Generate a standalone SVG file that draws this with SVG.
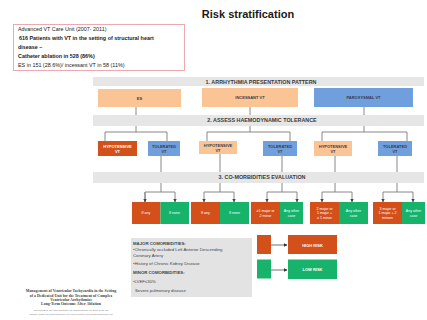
<svg xmlns="http://www.w3.org/2000/svg" width="427" height="320" viewBox="0 0 427 320">
  <style>
    text { font-family: "Liberation Sans", Arial, sans-serif; }
    .band { fill: #e6e6e6; }
    .bandtxt { font-size: 5.4px; font-weight: bold; fill: #3a3a3a; text-anchor: middle; }
    .peach { fill: #fbc495; }
    .blue { fill: #6f9fdc; }
    .red { fill: #d4501a; }
    .green { fill: #17b36a; }
    .lbl { font-size: 4px; font-weight: bold; text-anchor: middle; }
    .dark { fill: #3a3a4a; }
    .light { fill: #ffffff; }
    .small { font-size: 3.6px; fill: #ffffff; text-anchor: middle; }
    .conn { stroke: #7a7a7a; stroke-width: 0.9; fill: none; }
    .legarrow { stroke: #333; stroke-width: 0.7; fill: none; }
    .info { font-size: 5.4px; fill: #222; }
    .cmb { font-size: 4.3px; fill: #444; }
    .cite { font-family: "Liberation Serif", "Times New Roman", serif; font-weight: bold; font-size: 3.9px; fill: #444; text-anchor: middle; }
    .auth { font-size: 1.9px; fill: #777; text-anchor: middle; }
  </style>
  <defs>
    <marker id="ah" viewBox="0 0 10 10" refX="9" refY="5" markerWidth="4" markerHeight="4" orient="auto">
      <path d="M0,0 L10,5 L0,10 z" fill="#444"/>
    </marker>
    <marker id="ah2" viewBox="0 0 10 10" refX="9" refY="5" markerWidth="5" markerHeight="5" orient="auto">
      <path d="M0,0 L10,5 L0,10 z" fill="#333"/>
    </marker>
  </defs>

  <rect width="427" height="320" fill="#ffffff"/>

  <!-- heading -->
  <text x="248" y="18" font-size="11" font-weight="bold" fill="#1a1a1a" text-anchor="middle">Risk stratification</text>

  <!-- study summary -->
  <g id="summary">
    <rect x="13.5" y="24.5" width="171" height="46" fill="#ffffff" stroke="#e9a0ab" stroke-width="0.9"/>
    <text class="info" x="18" y="31">Advanced  VT Care Unit (2007- 2011)</text>
    <text class="info" x="19" y="40" font-weight="bold"> 616 Patients with VT in the setting of structural heart</text>
    <text class="info" x="18" y="49" font-weight="bold">disease –</text>
    <text class="info" x="18" y="58" font-weight="bold">Catheter ablation in 528 (86%)</text>
    <text class="info" x="18" y="67">ES in 151 (28.6%)/ incessant VT in 58 (11%)</text>
  </g>

  <!-- connectors -->
  <g id="connectors">
    <!-- presentation pattern to haemodynamic tolerance -->
    <path class="conn" d="M136,107 V132 M105,141 V132 H167 V141"/>
    <path class="conn" d="M250,107 V132 M207,141 V132 H290 V141"/>
    <path class="conn" d="M364,107 V132 M322,141 V132 H407 V141"/>
    <!-- tolerance to co-morbidity outcome -->
    <path class="conn" d="M161,156 V192 H145 V202 M161,192 H175"/>
    <path class="conn" d="M175,192 V202" marker-end="url(#ah)"/>
    <path class="conn" d="M145,192 V202" marker-end="url(#ah)"/>
    <path class="conn" d="M220,154 V192 H204 M220,192 H234"/>
    <path class="conn" d="M204,192 V202" marker-end="url(#ah)"/>
    <path class="conn" d="M234,192 V202" marker-end="url(#ah)"/>
    <path class="conn" d="M282,156 V192 H267 M282,192 H297"/>
    <path class="conn" d="M267,192 V202" marker-end="url(#ah)"/>
    <path class="conn" d="M297,192 V202" marker-end="url(#ah)"/>
    <path class="conn" d="M335,156 V192 H322 M335,192 H352"/>
    <path class="conn" d="M322,192 V202" marker-end="url(#ah)"/>
    <path class="conn" d="M352,192 V202" marker-end="url(#ah)"/>
    <path class="conn" d="M397,156 V192 H383 M397,192 H413"/>
    <path class="conn" d="M383,192 V202" marker-end="url(#ah)"/>
    <path class="conn" d="M413,192 V202" marker-end="url(#ah)"/>
    <!-- legend -->
    <path class="legarrow" d="M271,245 H287" marker-end="url(#ah2)"/>
    <path class="legarrow" d="M271,270 H287" marker-end="url(#ah2)"/>
  </g>

  <!-- step bands -->
  <g id="step1">
    <rect class="band" x="93" y="77" width="331" height="9"/>
    <text class="bandtxt" x="261" y="83.6">1. ARRHYTHMIA PRESENTATION PATTERN</text>
  </g>
  <g id="step2">
    <rect class="band" x="93" y="115" width="331" height="11"/>
    <text class="bandtxt" x="262" y="122.4">2. ASSESS HAEMODYNAMIC TOLERANCE</text>
  </g>
  <g id="step3">
    <rect class="band" x="93" y="172" width="331" height="11"/>
    <text class="bandtxt" x="262" y="179.4">3. CO-MORBIDITIES EVALUATION</text>
  </g>

  <!-- presentation pattern -->
  <g id="es">
    <rect class="peach" x="98" y="89" width="83" height="18"/>
    <text class="lbl dark" x="139.5" y="99.5">ES</text>
  </g>
  <g id="incessant">
    <rect class="peach" x="202" y="88" width="96" height="19"/>
    <text class="lbl dark" x="250" y="99">INCESSANT  VT</text>
  </g>
  <g id="paroxysmal">
    <rect class="blue" x="314" y="88" width="99" height="19"/>
    <text class="lbl dark" x="363.5" y="99">PAROXYSMAL  VT</text>
  </g>

  <!-- haemodynamic tolerance -->
  <g id="es-hypo">
    <rect class="red" x="98" y="141" width="39" height="15"/>
    <text class="lbl light" x="117.5" y="147.5">HYPOTENSIVE</text>
    <text class="lbl light" x="117.5" y="152.5">VT</text>
  </g>
  <g id="es-tol">
    <rect class="blue" x="148" y="141" width="32" height="15"/>
    <text class="lbl dark" x="164" y="147.5">TOLERATED</text>
    <text class="lbl dark" x="164" y="152.5">VT</text>
  </g>
  <g id="inc-hypo">
    <rect class="peach" x="199" y="141" width="38" height="13"/>
    <text class="lbl dark" x="218" y="146.5">HYPOTENSIVE</text>
    <text class="lbl dark" x="218" y="151.5">VT</text>
  </g>
  <g id="inc-tol">
    <rect class="blue" x="263" y="141" width="34" height="15"/>
    <text class="lbl dark" x="280" y="147.5">TOLERATED</text>
    <text class="lbl dark" x="280" y="152.5">VT</text>
  </g>
  <g id="par-hypo">
    <rect class="peach" x="314" y="141" width="38" height="15"/>
    <text class="lbl dark" x="333" y="147.5">HYPOTENSIVE</text>
    <text class="lbl dark" x="333" y="152.5">VT</text>
  </g>
  <g id="par-tol">
    <rect class="blue" x="378" y="141" width="34" height="15"/>
    <text class="lbl dark" x="395" y="147.5">TOLERATED</text>
    <text class="lbl dark" x="395" y="152.5">VT</text>
  </g>

  <!-- co-morbidity outcome -->
  <g id="g1-high">
    <rect class="red" x="132" y="202" width="28.5" height="22"/>
    <text class="small" x="146" y="214">If any</text>
  </g>
  <g id="g1-low">
    <rect class="green" x="160.5" y="202" width="28.5" height="22"/>
    <text class="small" x="174.5" y="214">If none</text>
  </g>
  <g id="g2-high">
    <rect class="red" x="191" y="202" width="29" height="22"/>
    <text class="small" x="205.5" y="214">If any</text>
  </g>
  <g id="g2-low">
    <rect class="green" x="220" y="202" width="29" height="22"/>
    <text class="small" x="234.5" y="214">If none</text>
  </g>
  <g id="g3-high">
    <rect class="red" x="251" y="202" width="29" height="22"/>
    <text class="small" x="265.5" y="212">≥1 major or</text>
    <text class="small" x="265.5" y="216.5">2 minor</text>
  </g>
  <g id="g3-low">
    <rect class="green" x="280" y="202" width="23" height="22"/>
    <text class="small" x="291.5" y="212">Any other</text>
    <text class="small" x="291.5" y="216.5">case</text>
  </g>
  <g id="g4-high">
    <rect class="red" x="310" y="202" width="29" height="22"/>
    <text class="small" x="324.5" y="209.5">2 major or</text>
    <text class="small" x="324.5" y="214">1 major +</text>
    <text class="small" x="324.5" y="218.5">≥ 1 minor</text>
  </g>
  <g id="g4-low">
    <rect class="green" x="339" y="202" width="29" height="22"/>
    <text class="small" x="353.5" y="212">Any other</text>
    <text class="small" x="353.5" y="216.5">case</text>
  </g>
  <g id="g5-high">
    <rect class="red" x="373" y="202" width="29" height="22"/>
    <text class="small" x="387.5" y="209.5">3 major  or</text>
    <text class="small" x="387.5" y="214">1 major + 2</text>
    <text class="small" x="387.5" y="218.5">minors</text>
  </g>
  <g id="g5-low">
    <rect class="green" x="402" y="202" width="23" height="22"/>
    <text class="small" x="413.5" y="212">Any other</text>
    <text class="small" x="413.5" y="216.5">case</text>
  </g>

  <!-- co-morbidity definitions -->
  <g id="comorbidities">
    <rect x="131" y="238" width="121" height="59" fill="#e3e3e3"/>
    <text class="cmb" x="133" y="244.5" font-weight="bold">MAJOR COMORBIDITIES:</text>
    <text class="cmb" x="133" y="251">•Chronically occluded Left Anterior Descending</text>
    <text class="cmb" x="133" y="256.5">Coronary Artery</text>
    <text class="cmb" x="133" y="265">•History of Chronic Kidney Disease</text>
    <text class="cmb" x="133" y="274" font-weight="bold">MINOR COMORBIDITIES:</text>
    <text class="cmb" x="133" y="283">•LVEF≤30%</text>
    <text class="cmb" x="135" y="292">Severe pulmonary disease</text>
  </g>

  <!-- legend -->
  <g id="legend-high">
    <rect class="red" x="257" y="235" width="14" height="19"/>
    <rect class="red" x="288" y="235" width="49" height="19"/>
    <text class="lbl light" x="312.5" y="246.5">HIGH RISK</text>
  </g>
  <g id="legend-low">
    <rect class="green" x="257" y="259.5" width="14" height="19"/>
    <rect class="green" x="288" y="259.5" width="49" height="19.5"/>
    <text class="lbl light" x="312.5" y="271">LOW RISK</text>
  </g>

  <!-- reference -->
  <g id="citation">
    <text class="cite" x="71" y="292">Management of Ventricular Tachycardia in the Setting</text>
    <text class="cite" x="71" y="296.5">of a Dedicated Unit for the Treatment of Complex</text>
    <text class="cite" x="71" y="300.5">Ventricular Arrhythmias</text>
    <text class="cite" x="71" y="304.5" font-size="3.4">Long-Term Outcome After Ablation</text>
    <text class="auth" x="71" y="311">Paolo Della Bella, MD; Francesca Baratto, MD; Dimitris Tsiachris, MD; Nicola Trevisi, MD;</text>
    <text class="auth" x="71" y="314.5">Pasquale Vergara, MD; Caterina Bisceglia, MD; Federica Petracca, MD; Corrado Carbucicchio, MD</text>
  </g>
</svg>
